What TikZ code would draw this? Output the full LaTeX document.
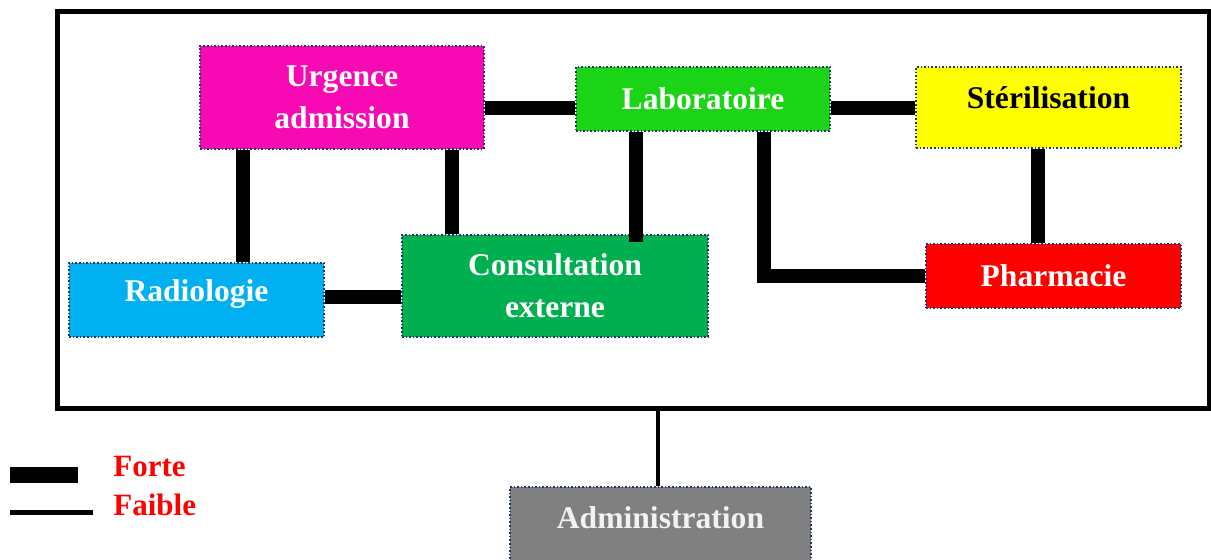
\documentclass[tikz,border=0pt]{standalone}
\usepackage{fontspec}
\setmainfont{Liberation Serif}
\begin{document}
\definecolor{urgcol}{RGB}{247,9,180}
\definecolor{labcol}{RGB}{28,212,22}
\definecolor{stercol}{RGB}{255,255,0}
\definecolor{radcol}{RGB}{0,176,240}
\definecolor{conscol}{RGB}{0,176,80}
\definecolor{pharmcol}{RGB}{255,0,0}
\definecolor{admcol}{RGB}{128,128,128}
\definecolor{edgecol}{RGB}{31,56,100}
\begin{tikzpicture}[x=0.5pt,y=-0.5pt,
  unit/.style={draw=edgecol, densely dotted, line width=0.8pt, inner sep=0pt,
    align=center, font=\bfseries\fontsize{15.8}{21}\selectfont, text=white},
  strong/.style={line width=7pt, line cap=butt, line join=miter},
  weak/.style={line width=2pt},
  legtext/.style={anchor=west, text=red, font=\bfseries\fontsize{15.5}{19}\selectfont, inner sep=0pt}]
\clip (0,0) rectangle (1211,560);
\fill[white] (0,0) rectangle (1211,560);

% outer frame of the hospital
\node[draw, line width=2.5pt, minimum width=576pt, minimum height=198.5pt, inner sep=0pt] (frame) at (633,210.5) {};

% legend
\coordinate (fs) at (10,475); \coordinate (fe) at (78,475);
\coordinate (ws) at (10,512.5); \coordinate (we) at (93,512.5);
\draw[line width=8pt] (fs) -- (fe);
\draw[line width=2.5pt] (ws) -- (we);
\node[legtext] (forte) at (113,467) {Forte};
\node[legtext] (faible) at (113,505) {Faible};

% connectors
\coordinate (urgpos) at (342,97.5);
\coordinate (labpos) at (703,99);
\coordinate (sterpos) at (1048.5,107.5);
\coordinate (radpos) at (196.5,300);
\coordinate (conspos) at (555,286);
\coordinate (pharmpos) at (1053.5,276);
\coordinate (admpos) at (660.5,527);

% units
\node[unit, fill=urgcol, minimum width=142pt, minimum height=51.5pt] (urg) at (urgpos) {Urgence\\admission};
\node[unit, fill=labcol, minimum width=127pt, minimum height=32pt] (lab) at (labpos) {Laboratoire};
\node[unit, fill=stercol, minimum width=132.5pt, minimum height=40.5pt,
  label={[font=\bfseries\fontsize{15.8}{21}\selectfont, text=black, yshift=5pt]center:Stérilisation}] (ster) at (sterpos) {};
\node[unit, fill=radcol, minimum width=127.5pt, minimum height=37pt,
  label={[font=\bfseries\fontsize{15.8}{21}\selectfont, text=white, yshift=3pt]center:Radiologie}] (rad) at (radpos) {};
\node[unit, fill=conscol, minimum width=153pt, minimum height=51pt] (cons) at (conspos) {Consultation\\externe};
\node[unit, fill=pharmcol, minimum width=127.5pt, minimum height=32pt] (pharm) at (pharmpos) {Pharmacie};
\node[unit, fill=admcol, minimum width=150.5pt, minimum height=40pt,
  label={[font=\bfseries\fontsize{15.8}{21}\selectfont, text={rgb,255:red,242;green,242;blue,242}, yshift=4.5pt]center:Administration}] (adm) at (admpos) {};

% strong links
\draw[strong] ([yshift=-4.75pt]lab.west) -- ([yshift=-4.75pt]lab.west -| urg.east);
\draw[strong] ([yshift=-4.75pt]lab.east) -- ([yshift=-4.75pt]lab.east -| ster.west);
\draw[strong] ([xshift=-49.5pt]urg.south) -- ([xshift=-49.5pt]urg.south |- rad.north);
\draw[strong] ([xshift=55pt]urg.south) -- ([xshift=55pt]urg.south |- cons.north);
\draw[strong] ([xshift=-33.5pt]lab.south) -- ([xshift=-33.5pt,yshift=-4pt]lab.south |- cons.north);
\draw[strong] ([yshift=1.5pt]rad.east) -- ([yshift=1.5pt]rad.east -| cons.west);
\draw[strong] ([xshift=30.5pt]lab.south) |- (pharm.west);
\draw[strong] ([xshift=-5.25pt]ster.south) -- ([xshift=-5.25pt]ster.south |- pharm.north);

% weak link to administration
\draw[weak] ([xshift=-1.25pt]adm.north) -- ([xshift=-1.25pt]adm.north |- frame.south);
\end{tikzpicture}
\end{document}
